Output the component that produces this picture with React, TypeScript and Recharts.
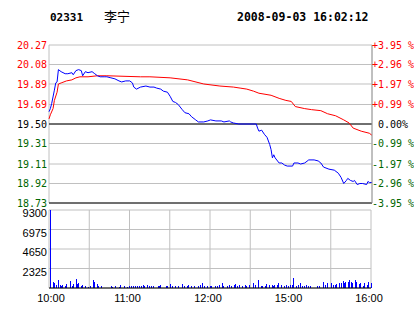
import { Bar, BarChart, CartesianGrid, Line, LineChart, ReferenceLine, XAxis, YAxis } from "recharts";

const stockCode = "02331";
const stockName = "李宁";
const stamp = "2008-09-03 16:02:12";

const prevClose = 19.5;
const priceTicks = [20.27, 20.08, 19.89, 19.69, 19.5, 19.31, 19.11, 18.92, 18.73];
const priceLabels = ["20.27", "20.08", "19.89", "19.69", "19.50", "19.31", "19.11", "18.92", "18.73"];
const pctLabels = ["+3.95 %", "+2.96 %", "+1.97 %", "+0.99 %", " 0.00%", "-0.99 %", "-1.97 %", "-2.96 %", "-3.95 %"];
const volumeTicks = [2325, 4650, 6975, 9300];
const gridMinutes = [0, 30, 60, 90, 120, 150, 180, 210, 240];
const timeLabels = ["10:00", "", "11:00", "", "12:00", "", "15:00", "", "16:00"];

// [minute since open, price]
const lastPrice: [number, number][] = [
  [0, 19.62], [1, 19.65], [2, 19.7], [4, 19.83], [5, 19.9], [6, 19.91], [7, 20.03], [9, 20.01],
  [12, 19.99], [14, 19.99], [17, 20.0], [18, 19.98], [20, 20.02], [22, 20.03], [24, 20.02], [25, 19.97],
  [27, 20.01], [29, 20.0], [32, 20.01], [34, 19.99], [36, 19.97], [38, 19.96], [41, 19.96], [43, 19.96],
  [46, 19.95], [49, 19.94], [52, 19.92], [54, 19.91], [57, 19.92], [60, 19.92], [62, 19.9], [63, 19.86],
  [65, 19.84], [68, 19.86], [72, 19.87], [75, 19.86], [78, 19.86], [80, 19.85], [83, 19.84], [85, 19.82],
  [88, 19.81], [90, 19.77], [92, 19.72], [94, 19.71], [96, 19.69], [99, 19.64], [101, 19.61], [104, 19.6],
  [106, 19.57], [109, 19.54], [111, 19.52], [115, 19.52], [118, 19.53], [120, 19.54], [124, 19.53], [128, 19.53],
  [130, 19.52], [134, 19.53], [135, 19.52], [137, 19.51], [141, 19.5], [154, 19.5], [155, 19.46], [156, 19.43],
  [158, 19.44], [160, 19.4], [162, 19.37], [164, 19.3], [165, 19.25], [166, 19.17], [167, 19.2], [168, 19.17],
  [171, 19.12], [173, 19.12], [175, 19.1], [177, 19.09], [181, 19.09], [182, 19.12], [185, 19.12], [187, 19.11],
  [190, 19.12], [193, 19.15], [197, 19.15], [200, 19.14], [202, 19.12], [204, 19.08], [208, 19.06], [212, 19.05],
  [215, 19.02], [217, 18.98], [219, 18.92], [221, 18.95], [222, 18.97], [224, 18.95], [226, 18.94], [227, 18.95],
  [229, 18.91], [231, 18.92], [233, 18.92], [236, 18.91], [237, 18.94], [238, 18.93], [240, 18.93],
];

const avgPrice: [number, number][] = [
  [0, 19.55], [1, 19.59], [3, 19.65], [4, 19.73], [6, 19.81], [7, 19.89], [9, 19.9], [13, 19.92],
  [17, 19.93], [20, 19.95], [23, 19.96], [29, 19.96], [36, 19.97], [43, 19.97], [68, 19.96], [75, 19.96],
  [90, 19.95], [103, 19.93], [115, 19.89], [127, 19.87], [137, 19.86], [142, 19.85], [147, 19.84], [152, 19.82],
  [156, 19.8], [165, 19.78], [171, 19.75], [176, 19.73], [180, 19.72], [183, 19.67], [190, 19.65], [195, 19.64],
  [202, 19.63], [207, 19.6], [213, 19.58], [219, 19.54], [223, 19.51], [226, 19.46], [232, 19.43], [238, 19.41],
  [240, 19.39],
];

const volume: [number, number][] = [
  [0, 9300], [3, 750], [4, 630], [5, 360], [7, 950], [8, 360], [9, 280], [10, 360], [12, 280], [13, 440],
  [16, 830], [17, 280], [18, 440], [20, 1070], [21, 440], [22, 560], [24, 280], [25, 360], [27, 240], [29, 160],
  [31, 240], [33, 950], [34, 680], [36, 440], [37, 240], [39, 280], [46, 280], [47, 160], [49, 280], [52, 160],
  [53, 360], [56, 240], [58, 160], [60, 240], [61, 240], [63, 240], [64, 240], [66, 240], [67, 240], [69, 280],
  [70, 360], [71, 240], [73, 360], [75, 240], [76, 240], [78, 240], [81, 240], [82, 280], [83, 360], [87, 240],
  [88, 240], [90, 440], [92, 240], [94, 240], [96, 240], [99, 440], [101, 280], [103, 240], [104, 360], [106, 280],
  [108, 240], [111, 240], [113, 360], [114, 560], [116, 240], [118, 240], [120, 240], [121, 240], [124, 240], [125, 240],
  [127, 360], [129, 560], [130, 240], [133, 240], [134, 360], [136, 280], [138, 360], [139, 440], [140, 280], [142, 360],
  [144, 240], [146, 360], [147, 240], [149, 360], [152, 630], [154, 360], [156, 950], [158, 280], [159, 280], [161, 280],
  [162, 440], [164, 360], [166, 360], [167, 280], [168, 360], [170, 360], [171, 560], [173, 360], [175, 280], [177, 360],
  [178, 280], [180, 360], [181, 360], [182, 1150], [184, 240], [186, 360], [187, 560], [189, 240], [190, 280], [192, 360],
  [193, 280], [195, 240], [200, 280], [201, 280], [204, 760], [206, 360], [207, 560], [210, 560], [212, 360], [213, 360],
  [214, 440], [216, 560], [218, 630], [219, 830], [220, 630], [221, 760], [223, 760], [224, 950], [225, 680], [226, 560],
  [228, 950], [229, 680], [231, 440], [232, 560], [234, 280], [235, 560], [237, 360], [238, 760], [240, 560],
];

const priceRows = lastPrice.map(([m, p]) => ({ m, p }));
const avgRows = avgPrice.map(([m, p]) => ({ m, p }));
const volRows = volume.map(([m, v]) => ({ m, v }));

const RED = "#ff0000";
const GREEN = "#006600";
const BLUE = "#0000ff";
const GRID = "#c0c0c0";
const MONO = "'DejaVu Sans Mono', monospace";
const SANS = "'Liberation Sans', Arial, sans-serif";

const colorFor = (v: number) => (v > prevClose + 0.001 ? RED : v < prevClose - 0.001 ? GREEN : "#000");

function PriceTick({ x, y, payload, index }: any) {
  return (
    <text x={x} y={y} dy="0.36em" textAnchor="end" fontFamily={MONO} fontSize={10} fill={colorFor(payload.value)}>
      {priceLabels[index]}
    </text>
  );
}

function PctTick({ x, y, payload, index }: any) {
  return (
    <text
      x={x}
      y={y}
      dy="0.36em"
      textAnchor="start"
      fontFamily={MONO}
      fontSize={10}
      fill={colorFor(payload.value)}
      style={{ whiteSpace: "pre" }}
    >
      {pctLabels[index]}
    </text>
  );
}

function VolTick({ x, y, payload }: any) {
  return (
    <text x={x} y={y + 3.5} dy="0.36em" textAnchor="end" fontFamily={SANS} fontSize={11} fill="#000">
      {payload.value}
    </text>
  );
}

function TimeTick({ x, y, index }: any) {
  const label = timeLabels[index];
  if (!label) return null;
  return (
    <text x={x + (index === 0 ? 2 : -2)} y={y} dy="0.36em" textAnchor="middle" fontFamily={SANS} fontSize={11} fill="#000">
      {label}
    </text>
  );
}

// 1px crisp volume bar, kept just inside the plot's left border
function VolBar({ x, y, width, height }: any) {
  if (!height || height <= 0) return null;
  const left = Math.max(50, Math.round(x + width / 2));
  return <rect x={left} y={y} width={1} height={height} fill={BLUE} shapeRendering="crispEdges" />;
}

export default function App() {
  return (
    <div style={{ position: "absolute", left: 0, top: 0, width: 414, height: 314, background: "#fff" }}>
      <svg width={414} height={40} style={{ position: "absolute", left: 0, top: 0 }}>
        <text x={50} y={17} dy="0.36em" fontFamily={MONO} fontWeight="bold" fontSize={11} fill="#000">
          {stockCode}
        </text>
        <text x={104} y={16} dy="0.36em" fontFamily="'Noto Sans CJK SC', sans-serif" fontSize={13} fill="#000">
          {stockName}
        </text>
        <text x={237} y={17} dy="0.36em" fontFamily={MONO} fontWeight="bold" fontSize={11.5} fill="#000">
          {stamp}
        </text>
      </svg>

      <div style={{ position: "absolute", left: 0, top: 0 }}>
        <LineChart width={414} height={210} margin={{ top: 45, right: 0, bottom: 7, left: 0 }}>
          <CartesianGrid stroke={GRID} />
          <XAxis
            dataKey="m"
            type="number"
            domain={[0, 240]}
            ticks={gridMinutes}
            height={0}
            tick={false}
            axisLine={false}
            tickLine={false}
          />
          <YAxis
            type="number"
            domain={[18.73, 20.27]}
            ticks={priceTicks}
            width={49}
            tickSize={0}
            tickMargin={2}
            axisLine={false}
            tick={<PriceTick />}
            interval={0}
          />
          <YAxis
            yAxisId="right"
            orientation="right"
            type="number"
            domain={[18.73, 20.27]}
            ticks={priceTicks}
            width={42}
            tickSize={0}
            tickMargin={0}
            axisLine={{ stroke: "#a0a0a0" }}
            tick={<PctTick />}
            interval={0}
          />
          <ReferenceLine y={prevClose} stroke="#000" />
          <ReferenceLine y={18.73} stroke="#000" />
          <Line
            yAxisId="right"
            data={avgRows}
            dataKey="p"
            type="linear"
            stroke={RED}
            strokeWidth={1}
            dot={false}
            isAnimationActive={false}
          />
          <Line data={priceRows} dataKey="p" type="linear" stroke={BLUE} strokeWidth={1} dot={false} isAnimationActive={false} />
        </LineChart>
      </div>

      <div style={{ position: "absolute", left: 0, top: 204 }}>
        <BarChart width={414} height={110} data={volRows} margin={{ top: 6, right: 43, bottom: 6, left: 0 }} barSize={1}>
          <CartesianGrid stroke={GRID} />
          <XAxis
            dataKey="m"
            type="number"
            domain={[0, 240]}
            ticks={gridMinutes}
            interval={0}
            height={20}
            tickSize={0}
            tickMargin={10}
            axisLine={{ stroke: "#000" }}
            tick={<TimeTick />}
          />
          <YAxis
            type="number"
            domain={[0, 9300]}
            ticks={volumeTicks}
            width={49}
            tickSize={0}
            tickMargin={2}
            axisLine={false}
            tick={<VolTick />}
            interval={0}
          />
          <Bar dataKey="v" fill={BLUE} shape={<VolBar />} isAnimationActive={false} />
        </BarChart>
      </div>
    </div>
  );
}
